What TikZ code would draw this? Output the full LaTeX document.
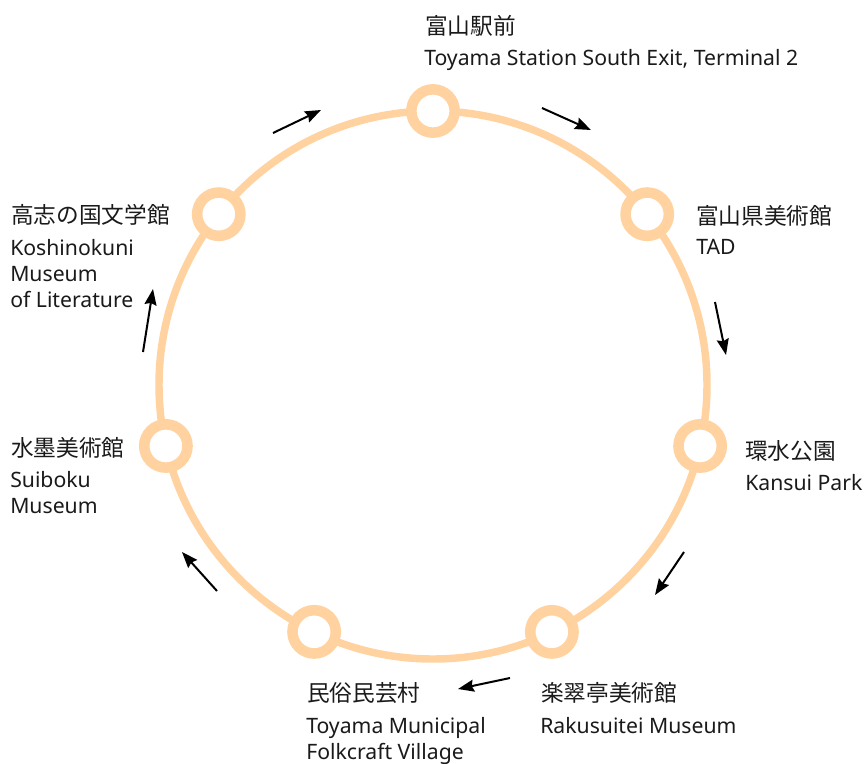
\documentclass[tikz,border=0pt]{standalone}
\usepackage{fontspec}
\setmainfont{Noto Sans}
\newfontfamily\cjk{Noto Sans CJK JP}
\usetikzlibrary{arrows.meta,calc}
\definecolor{peach}{RGB}{255,210,160}
\definecolor{ink}{RGB}{26,26,26}
\begin{document}
\begin{tikzpicture}[x=0.75pt,y=-0.75pt,
  route/.style={draw=peach,line width=5.6pt},
  stop/.style={circle,draw=peach,fill=white,line width=7.9pt,minimum size=32.5pt,inner sep=0pt},
  jp/.style={anchor=base west,inner sep=0pt,text=ink,font=\cjk\fontsize{17}{20}\selectfont},
  en/.style={anchor=base west,inner sep=0pt,text=ink,font=\fontsize{15.9}{18}\selectfont},
  dir/.style={-{Stealth[length=12pt,width=9pt,inset=1.5pt]},line width=1.5pt,draw=black}]
\useasboundingbox (0,0) rectangle (865,764);
\coordinate (ctr) at (433,385);
\draw[route] (ctr) circle [radius=274];
\foreach \k/\nm in {0/toyama,1/tad,2/kansui,3/rakusui,4/minzoku,5/suiboku,6/koshi}
  {\node[stop] (\nm) at ($(ctr)+(-90+\k*360/7:274)$) {};}
\node[jp] (toyamaJ) at (425,34) {富山駅前};
\node[en] (toyamaE) at (424,65) {Toyama Station South Exit, Terminal 2};
\node[jp] (tadJ) at (696,224) {富山県美術館};
\node[en] (tadE) at (696,254) {TAD};
\node[jp] (kansuiJ) at (745,459) {環水公園};
\node[en] (kansuiE) at (745,490) {Kansui Park};
\node[jp] (rakusuiJ) at (541,701) {楽翠亭美術館};
\node[en] (rakusuiE) at (540,733) {Rakusuitei Museum};
\node[jp] (minzokuJ) at (307,701) {民俗民芸村};
\node[en] (minzokuE) at (306,733) {Toyama Municipal};
\node[en] (minzokuF) at (306,759) {Folkcraft Village};
\node[jp] (suibokuJ) at (11,456) {水墨美術館};
\node[en] (suibokuE) at (10,487) {Suiboku};
\node[en] (suibokuF) at (10,513) {Museum};
\node[jp] (koshiJ) at (11,223) {高志の国文学館};
\node[en] (koshiE) at (10,255) {Koshinokuni};
\node[en] (koshiF) at (10,281) {Museum};
\node[en] (koshiG) at (10,307) {of Literature};
\coordinate (a1s) at (542,108); \coordinate (a1e) at (591,130);
\coordinate (a2s) at (715,302); \coordinate (a2e) at (726,355);
\coordinate (a3s) at (684,552); \coordinate (a3e) at (655,595);
\coordinate (a4s) at (510,678); \coordinate (a4e) at (458,689);
\coordinate (a5s) at (217,591); \coordinate (a5e) at (182,552);
\coordinate (a6s) at (143,352); \coordinate (a6e) at (153,289);
\coordinate (a7s) at (273,133); \coordinate (a7e) at (321,110);
\foreach \i in {1,...,7} {\draw[dir] (a\i s) -- (a\i e);}
\end{tikzpicture}
\end{document}
